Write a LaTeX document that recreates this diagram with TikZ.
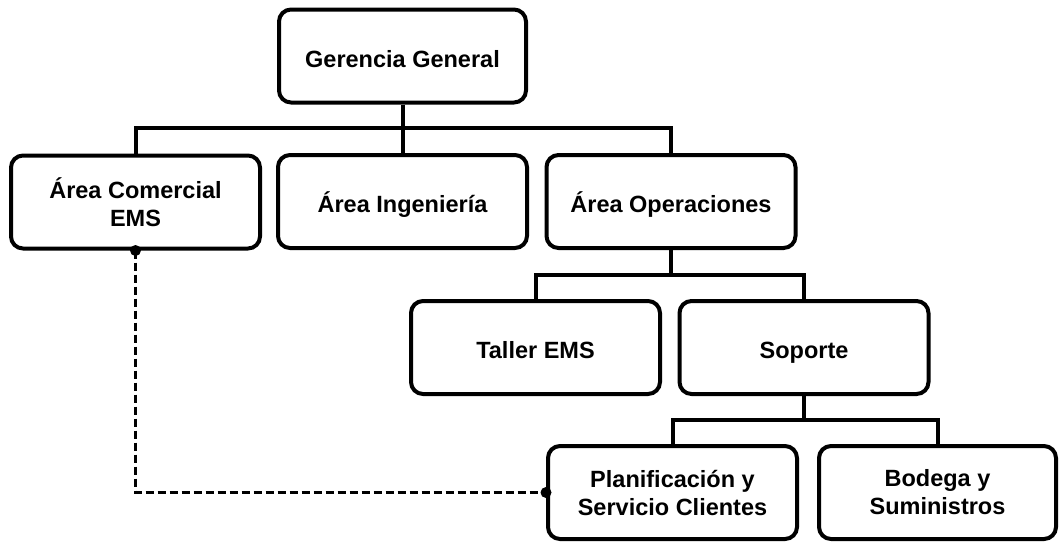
\documentclass[tikz,border=0pt]{standalone}
\usepackage{fontspec}
\setmainfont{Liberation Sans}
\begin{document}
\begin{tikzpicture}[x=1pt,y=-1pt,
  unit/.style={draw=black, line width=4pt, rounded corners=12pt, fill=white,
    minimum width=249pt, minimum height=93pt, align=center,
    font=\fontsize{23.5}{28}\selectfont\bfseries},
  oneline/.style={text height=22pt, text depth=0pt},
  link/.style={line width=4pt},
  dotted link/.style={line width=3pt, dash pattern=on 8pt off 4pt}]
\useasboundingbox (0,0) rectangle (1060,542);

% boxes
\node[unit, oneline, minimum width=247pt] (gg) at (402.5,56) {Gerencia General};
\node[unit] (com) at (135.5,202) {Área Comercial\\EMS};
\node[unit, oneline] (ing) at (402.5,201.5) {Área Ingeniería};
\node[unit, oneline] (ope) at (671,201.5) {Área Operaciones};
\node[unit, oneline] (tal) at (535.5,347.5) {Taller EMS};
\node[unit, oneline] (sop) at (804,347.5) {Soporte};
\node[unit] (pla) at (672.5,492.5) {Planificación y\\Servicio Clientes};
\node[unit, minimum width=237pt] (bod) at (937.5,492.5) {Bodega y\\Suministros};

% junctions of the tree lines
\coordinate (j1) at (402.5,128);
\coordinate (j2) at (671,275);
\coordinate (j3) at (804,420);

\draw[link] (gg.south) -- (j1);
\draw[link] (com.north) |- (j1) -| (ope.north);
\draw[link] (ing.north) -- (j1);

\draw[link] (ope.south) -- (j2);
\draw[link] (tal.north) |- (j2) -| (sop.north);

\draw[link] (sop.south) -- (j3);
\draw[link] (pla.north) |- (j3) -| (bod.north);

% dashed relation with dots on both ends
\draw[dotted link] (com.south) |- (pla.west);
\fill (com.south) circle[radius=5.5pt];
\fill (pla.west) circle[radius=5.5pt];
\end{tikzpicture}
\end{document}
